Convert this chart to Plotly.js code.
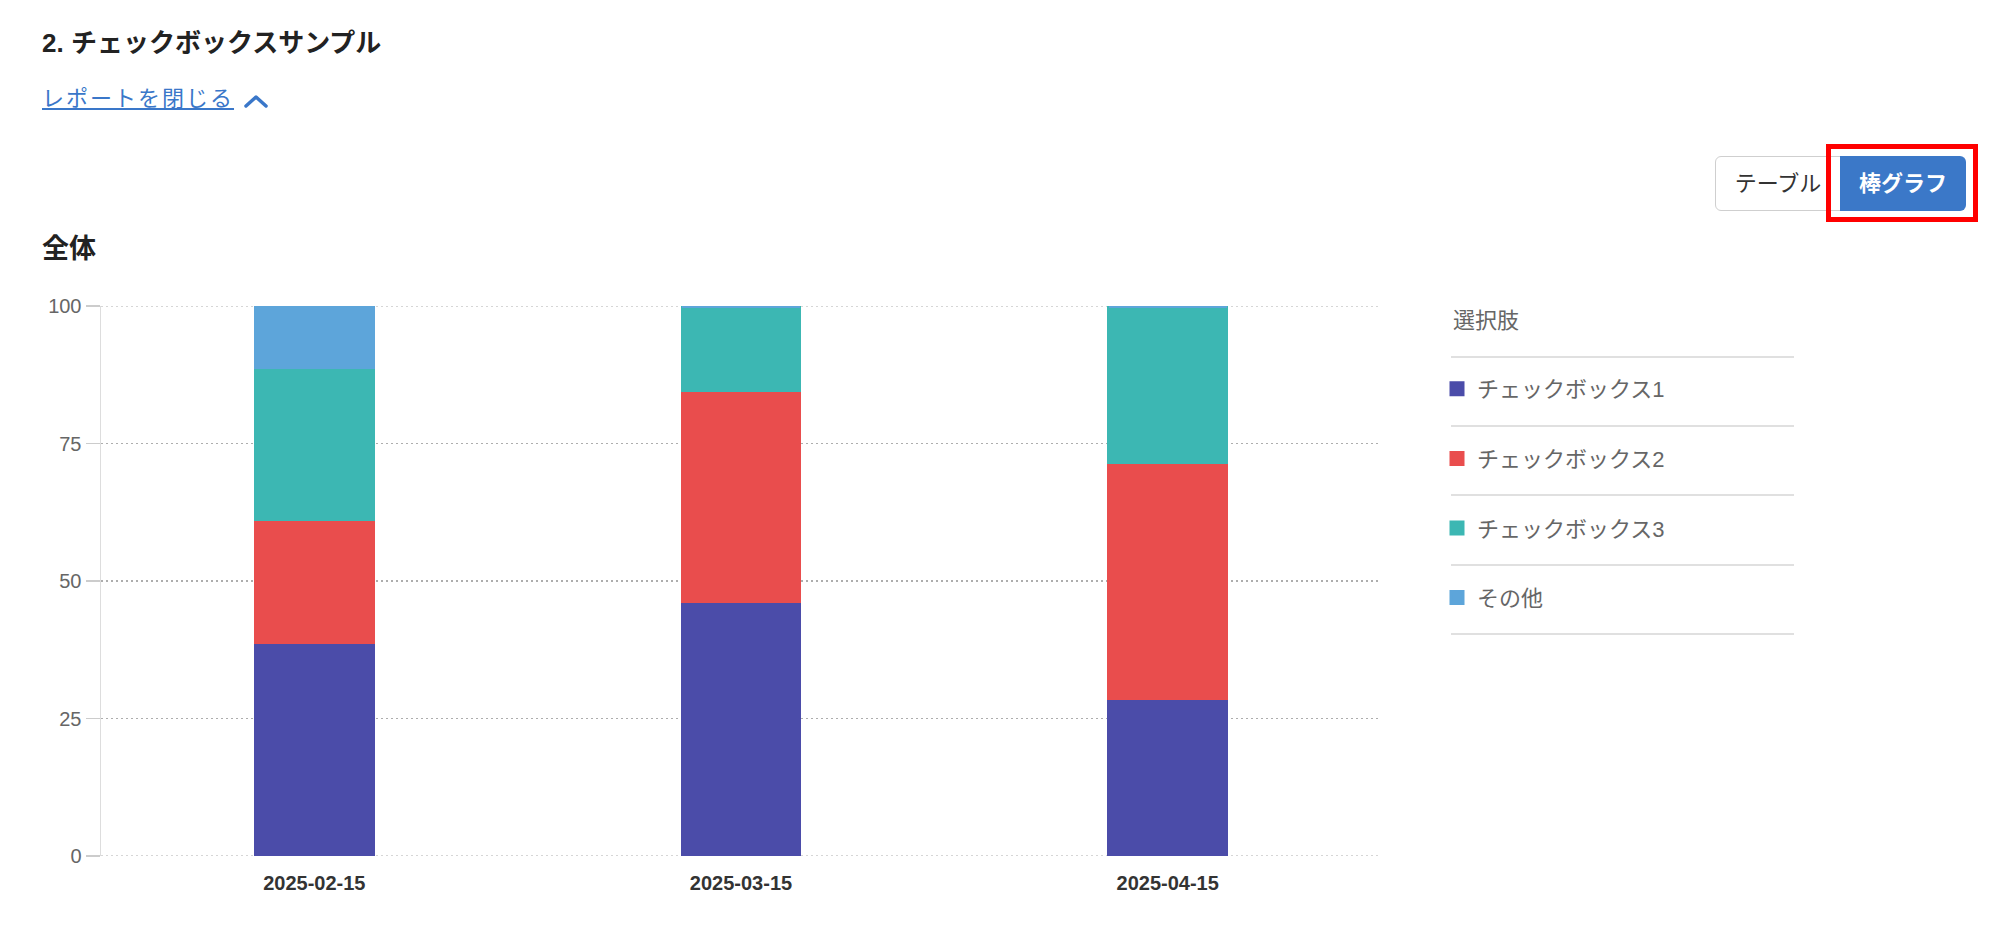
<!DOCTYPE html>
<html>
<head>
<meta charset="utf-8">
<script src="https://cdn.plot.ly/plotly-3.0.1.min.js"></script>
<style>
  html, body { margin: 0; padding: 0; background: #ffffff; width: 2000px; height: 942px; overflow: hidden; }
  body { font-family: "Liberation Sans", "Noto Sans CJK JP", sans-serif; position: relative; }
  #chart { position: absolute; left: 0; top: 0; width: 2000px; height: 942px; }
  .abs { position: absolute; white-space: nowrap; }
  #title { left: 42px; top: 23px; line-height: 40px; font-size: 26px; font-weight: bold; color: #222; }
  #link { left: 42px; top: 82px; line-height: 34px; font-size: 22px; color: #3a77c9; text-decoration: underline; letter-spacing: 2px; }
  #chev { left: 242px; top: 91px; }
  #heading { left: 42px; top: 229px; line-height: 40px; font-size: 27px; font-weight: bold; color: #222; }
  #btnTable { left: 1715px; top: 156px; width: 126px; height: 55px; box-sizing: border-box; border: 1px solid #cfcfcf; border-radius: 6px 0 0 6px; font-size: 22px; color: #333; text-align: center; line-height: 53px; background: #fff; }
  #btnBar { left: 1840px; top: 156px; width: 126px; height: 55px; box-sizing: border-box; border-radius: 0 6px 6px 0; font-size: 22px; font-weight: bold; color: #fff; text-align: center; line-height: 55px; background: #3b78c8; }
  #redBox { left: 1826px; top: 144px; width: 152px; height: 78px; box-sizing: border-box; border: 5px solid #ff0000; }
</style>
</head>
<body>
<div id="chart"></div>
<div class="abs" id="title">2. チェックボックスサンプル</div>
<div class="abs" id="link">レポートを閉じる</div>
<svg class="abs" id="chev" width="30" height="22"><polyline points="4,15 14,6 24,15" fill="none" stroke="#3a77c9" stroke-width="3.5" stroke-linecap="round" stroke-linejoin="round"/></svg>
<div class="abs" id="heading">全体</div>
<div class="abs" id="btnTable">テーブル</div>
<div class="abs" id="btnBar">棒グラフ</div>
<div class="abs" id="redBox"></div>
<script>
// ---- data ----
const dates = ['2025-02-15', '2025-03-15', '2025-04-15'];
const seriesNames = ['チェックボックス1', 'チェックボックス2', 'チェックボックス3', 'その他'];
const checkbox1 = [38.9, 46.2, 28.6];
const checkbox2 = [22.2, 38.5, 42.9];
const checkbox3 = [27.8, 15.3, 28.5];
const other = [11.1, 0, 0];
const yTicks = [0, 25, 50, 75, 100];
const legendTitle = '選択肢';

const colors = ['#4b4ca9', '#e94d4d', '#3cb7b3', '#5da5da'];
const seriesValues = [checkbox1, checkbox2, checkbox3, other];

const traces = seriesValues.map((vals, i) => ({
  type: 'bar',
  name: seriesNames[i],
  x: dates,
  y: vals,
  legendgroup: 'g' + i,
  marker: { color: colors[i], line: { color: colors[i], width: 3 } },
  hoverinfo: 'skip'
}));

const FONT = '"Liberation Sans", "Noto Sans CJK JP", sans-serif';
const L = 101, R = 619, T = 306, B = 86;
const plotH = 942 - T - B;
const plotW = 2000 - L - R;
function py(yPix) { return (942 - B - yPix) / plotH; }
function px(xPix) { return (xPix - L) / plotW; }

const sepY = [357, 426, 495, 565, 634];
const shapes = sepY.map(y => ({
  type: 'line', xref: 'paper', yref: 'paper',
  x0: px(1451), x1: px(1794), y0: py(y), y1: py(y),
  line: { color: '#e0e0e0', width: 2 }
}));
// dotted grid lines at the range ends (Plotly omits them at the edges)
[yTicks[0], yTicks[yTicks.length - 1]].forEach(v => shapes.push({
  type: 'line', xref: 'paper', yref: 'y', layer: 'below',
  x0: 0, x1: 1, y0: v, y1: v,
  line: { color: '#adadad', width: 1.2, dash: '2px,3px' }
}));

const layout = {
  width: 2000, height: 942,
  margin: { l: L, r: R, t: T, b: B, pad: 0 },
  paper_bgcolor: 'rgba(0,0,0,0)',
  plot_bgcolor: 'rgba(0,0,0,0)',
  barmode: 'stack',
  bargap: 0.7235,
  font: { family: FONT, color: '#666' },
  showlegend: true,
  legend: {
    x: px(1437), xanchor: 'left',
    y: py(368), yanchor: 'top',
    traceorder: 'grouped',
    tracegroupgap: 38,
    font: { family: FONT, size: 22, color: '#666' },
    bgcolor: 'rgba(0,0,0,0)'
  },
  annotations: [{
    text: legendTitle, xref: 'paper', yref: 'paper',
    x: px(1451), xanchor: 'left', y: py(320), yanchor: 'middle',
    showarrow: false, font: { family: FONT, size: 22, color: '#666' }
  }],
  xaxis: {
    type: 'category',
    showline: false, showgrid: false, zeroline: false,
    ticks: '',
    tickfont: { family: FONT, size: 20, color: '#333', weight: 'bold' },
    ticklabelstandoff: 13
  },
  yaxis: {
    range: [0, 100],
    tickvals: yTicks,
    ticktext: yTicks.map(String),
    showline: true, linecolor: '#dddddd', linewidth: 1.5,
    ticks: 'outside', ticklen: 14, tickcolor: '#cccccc', tickwidth: 1.5,
    showgrid: true, gridcolor: '#adadad', gridwidth: 1.2, griddash: '2px,3px',
    zeroline: false,
    tickfont: { family: FONT, size: 20, color: '#666' }
  },
  shapes: shapes
};

Plotly.newPlot('chart', traces, layout, { staticPlot: true, displayModeBar: false });
</script>
</body>
</html>
